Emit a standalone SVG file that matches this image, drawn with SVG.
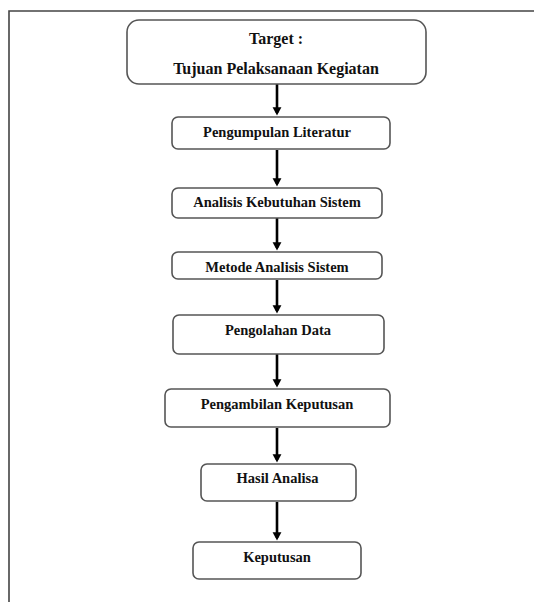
<svg xmlns="http://www.w3.org/2000/svg" width="534" height="602" viewBox="0 0 534 602">
  <style>
    .box { fill: #ffffff; stroke: #555555; stroke-width: 1.6; }
    .lbl { font-family: "Liberation Serif", "Times New Roman", serif; font-weight: bold; font-size: 14.5px; fill: #111111; text-anchor: middle; }
    .big { font-size: 16px; }
    .arrow { stroke: #000000; stroke-width: 2.6; fill: none; marker-end: url(#ah); }
    .frame { stroke: #444444; stroke-width: 1.6; fill: none; }
  </style>
  <defs>
    <marker id="ah" markerWidth="4" markerHeight="4" refX="2.2" refY="2" orient="auto" markerUnits="strokeWidth">
      <path d="M0,0.3 L3.2,2 L0,3.7 Z" fill="#000000"/>
    </marker>
  </defs>
  <rect x="0" y="0" width="534" height="602" fill="#ffffff"/>
  <path class="frame" d="M9,602 L9,11 L534,11"/>

  <g id="connectors">
    <line class="arrow" x1="277" y1="84" x2="277" y2="113"/>
    <line class="arrow" x1="277" y1="150" x2="277" y2="184"/>
    <line class="arrow" x1="277" y1="218" x2="277" y2="248"/>
    <line class="arrow" x1="277" y1="280" x2="277" y2="311"/>
    <line class="arrow" x1="277" y1="354" x2="277" y2="385"/>
    <line class="arrow" x1="277" y1="428" x2="277" y2="460"/>
    <line class="arrow" x1="277" y1="502" x2="277" y2="538"/>
  </g>

  <g id="n1">
    <rect class="box" x="127" y="20" width="299" height="64" rx="12"/>
    <text class="lbl big" x="276" y="44">Target :</text>
    <text class="lbl big" x="276" y="74">Tujuan Pelaksanaan Kegiatan</text>
  </g>
  <g id="n2">
    <rect class="box" x="172" y="117" width="218" height="32" rx="6"/>
    <text class="lbl" x="277" y="137">Pengumpulan Literatur</text>
  </g>
  <g id="n3">
    <rect class="box" x="172" y="188" width="210" height="30" rx="6"/>
    <text class="lbl" x="277" y="207">Analisis Kebutuhan Sistem</text>
  </g>
  <g id="n4">
    <rect class="box" x="172" y="252" width="210" height="27" rx="6"/>
    <text class="lbl" x="277" y="271.5">Metode Analisis Sistem</text>
  </g>
  <g id="n5">
    <rect class="box" x="173" y="315" width="211" height="39" rx="6"/>
    <text class="lbl" x="278" y="335">Pengolahan Data</text>
  </g>
  <g id="n6">
    <rect class="box" x="165" y="389" width="225" height="38" rx="6"/>
    <text class="lbl" x="277" y="408.5">Pengambilan Keputusan</text>
  </g>
  <g id="n7">
    <rect class="box" x="201" y="464" width="155" height="37" rx="6"/>
    <text class="lbl" x="277.5" y="483">Hasil Analisa</text>
  </g>
  <g id="n8">
    <rect class="box" x="193" y="542" width="168" height="37" rx="6"/>
    <text class="lbl" x="277" y="562">Keputusan</text>
  </g>
</svg>
